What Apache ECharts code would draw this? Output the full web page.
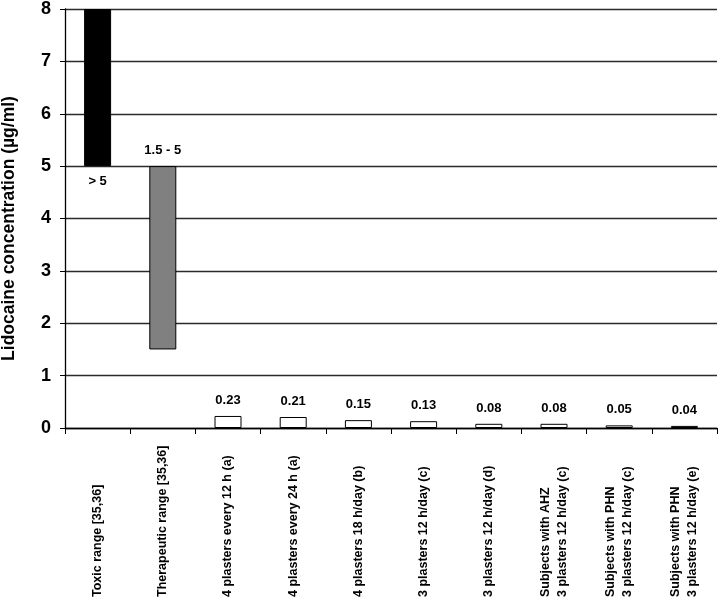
<!DOCTYPE html>
<html>
<head>
<meta charset="utf-8">
<script src="https://cdn.jsdelivr.net/npm/echarts@6/dist/echarts.min.js"></script>
<style>html,body{margin:0;padding:0;background:#fff;}#chart{width:718px;height:610px;}</style>
</head>
<body>
<div id="chart"></div>
<script>
const categories = [
  'Toxic range [35,36]',
  'Therapeutic range [35,36]',
  '4 plasters every 12 h (a)',
  '4 plasters every 24 h (a)',
  '4 plasters 18 h/day (b)',
  '3 plasters 12 h/day (c)',
  '3 plasters 12 h/day (d)',
  'Subjects with AHZ\n3 plasters 12 h/day (c)',
  'Subjects with PHN\n3 plasters 12 h/day (c)',
  'Subjects with PHN\n3 plasters 12 h/day (e)'
];
const rangeLow = [5, 1.5, 0, 0, 0, 0, 0, 0, 0, 0];
const rangeHigh = [8, 5, 0.23, 0.21, 0.15, 0.13, 0.08, 0.08, 0.05, 0.04];
const valueLabels = ['> 5', '1.5 - 5', '0.23', '0.21', '0.15', '0.13', '0.08', '0.08', '0.05', '0.04'];
const barColors = ['#000000', '#808080', '#ffffff', '#ffffff', '#ffffff', '#ffffff', '#ffffff', '#ffffff', '#ffffff', '#ffffff'];
const yMin = 0, yMax = 8, yStep = 1;

const font = '"Liberation Sans", Arial, sans-serif';

const rangeData = rangeHigh.map((h, i) => ({
  value: h - rangeLow[i],
  itemStyle: { color: barColors[i], borderColor: '#000', borderWidth: 1 },
  label: {
    show: true,
    position: i === 0 ? 'bottom' : 'top',
    distance: 9,
    formatter: valueLabels[i]
  }
}));

const chart = echarts.init(document.getElementById('chart'), null, { renderer: 'canvas' });
chart.setOption({
  backgroundColor: '#ffffff',
  animation: false,
  grid: { left: 65, right: 1, top: 9, bottom: 182, containLabel: false, outerBoundsMode: 'none' },
  xAxis: {
    type: 'category',
    data: categories,
    boundaryGap: true,
    axisLine: { show: true, lineStyle: { color: '#000', width: 1.3 } },
    axisTick: { show: true, alignWithLabel: false, length: 6, lineStyle: { color: '#000', width: 1 } },
    axisLabel: {
      interval: 0,
      rotate: 90,
      align: 'left',
      verticalAlign: 'middle',
      margin: 169,
      color: '#000',
      fontFamily: font,
      fontWeight: 'bold',
      fontSize: 12.5,
      lineHeight: 17
    },
    splitLine: { show: false }
  },
  yAxis: {
    type: 'value',
    min: yMin,
    max: yMax,
    interval: yStep,
    name: 'Lidocaine concentration (µg/ml)',
    nameLocation: 'middle',
    nameGap: 47,
    nameRotate: 90,
    nameTextStyle: { color: '#000', fontFamily: font, fontWeight: 'bold', fontSize: 17.5, padding: [0, 20, 0, 0] },
    axisLine: { show: true, lineStyle: { color: '#000', width: 1.3 } },
    axisTick: { show: true, length: 5, lineStyle: { color: '#000' } },
    axisLabel: { color: '#000', fontFamily: font, fontWeight: 'bold', fontSize: 18, margin: 14 },
    splitLine: { show: true, lineStyle: { color: '#2a2a2a', width: 1.3 } }
  },
  series: [
    {
      type: 'bar',
      stack: 'r',
      data: rangeLow,
      barWidth: 27,
      itemStyle: { color: 'rgba(0,0,0,0)' },
      silent: true
    },
    {
      type: 'bar',
      stack: 'r',
      data: rangeData,
      barWidth: 27,
      label: { color: '#000', fontFamily: font, fontWeight: 'bold', fontSize: 13 }
    }
  ]
});
</script>
</body>
</html>
